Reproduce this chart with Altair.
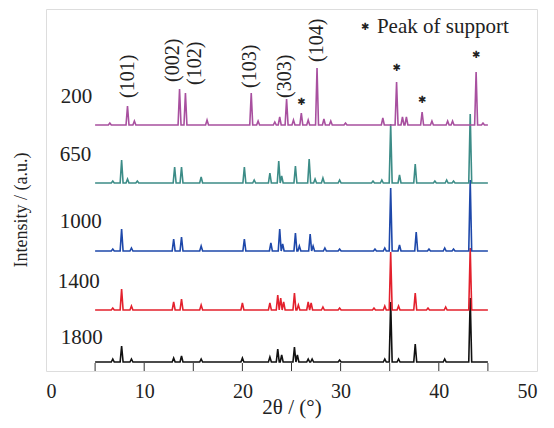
import altair as alt
import pandas as pd

# ---- data ----
samples = ["1800", "1400", "1000", "650", "200"]
colors = ["#111111", "#e3212d", "#1e48aa", "#3c8c87", "#a8509f"]
offsets = [9, 61, 120, 188, 246]          # vertical stacking offset (a.u.)
x_start, x_end = 5.0, 45.0

pos_1800 = [6.8, 7.7, 8.7, 13.0, 13.8, 15.8, 20.0, 22.8, 23.6, 24.0, 25.3, 25.6, 26.7, 27.1, 29.9, 34.5, 35.1, 35.9, 37.6, 40.6, 43.2]
hgt_1800 = [3, 16, 3, 4, 6, 3, 4, 5, 13, 7, 15, 7, 3, 3, 2, 3, 60, 3, 18, 3, 64]

pos_1400 = [6.8, 7.7, 8.7, 13.0, 13.8, 15.8, 20.0, 22.8, 23.6, 23.9, 24.2, 25.3, 25.7, 26.7, 27.0, 28.2, 29.9, 33.4, 34.5, 35.1, 35.9, 37.6, 38.9, 40.7, 43.2]
hgt_1400 = [2, 21, 4, 8, 11, 5, 7, 7, 15, 12, 8, 17, 5, 8, 7, 3, 2, 2, 4, 58, 4, 17, 2, 3, 62]

pos_1000 = [6.8, 7.7, 8.7, 13.0, 13.8, 15.8, 20.2, 22.9, 23.8, 24.1, 25.4, 25.8, 26.9, 27.2, 28.4, 29.9, 33.5, 34.5, 35.1, 36.0, 37.7, 39.0, 40.6, 41.5, 43.2]
hgt_1000 = [2, 22, 3, 12, 14, 5, 12, 8, 22, 7, 18, 5, 17, 5, 3, 2, 2, 3, 63, 6, 19, 2, 3, 2, 71]

pos_650 = [6.8, 7.7, 8.3, 9.3, 13.1, 13.8, 15.8, 20.2, 21.2, 22.8, 23.7, 24.0, 25.4, 26.8, 27.4, 28.2, 29.9, 33.3, 34.2, 35.1, 36.0, 37.6, 39.6, 40.8, 41.5, 43.2]
hgt_650 = [2, 23, 4, 2, 16, 16, 6, 16, 3, 10, 22, 7, 17, 24, 4, 5, 3, 2, 3, 59, 8, 19, 2, 3, 2, 69]

pos_200 = [6.5, 8.3, 9.0, 13.6, 14.2, 16.4, 20.9, 21.6, 23.3, 23.8, 24.5, 25.2, 26.0, 26.7, 27.6, 28.3, 29.0, 30.5, 34.3, 35.7, 36.3, 36.7, 38.3, 39.3, 40.9, 41.4, 43.8, 44.5]
hgt_200 = [2, 19, 4, 36, 32, 5, 32, 4, 3, 8, 26, 5, 12, 5, 57, 6, 4, 2, 7, 43, 8, 8, 13, 4, 4, 4, 53, 2]

peak_pos = [pos_1800, pos_1400, pos_1000, pos_650, pos_200]
peak_hgt = [hgt_1800, hgt_1400, hgt_1000, hgt_650, hgt_200]

# sample label positions
label_x = [1.5, 1.2, 1.4, 1.4, 1.5]
label_y = [33, 89, 149, 216, 274]

# Miller-index annotations
hkl_text = ["(101)", "(002)", "(102)", "(103)", "(303)", "(104)"]
hkl_x = [8.35, 12.95, 15.2, 20.75, 24.3, 27.6]
hkl_y = [273, 289, 286, 283, 273, 309]

# asterisks marking support peaks
star_x = [26.0, 35.7, 38.3, 43.8]
star_y = [269, 303, 271, 316]

x_ticks_major = [0, 10, 20, 30, 40, 50]
x_ticks_all = [5, 10, 15, 20, 25, 30, 35, 40, 45]

# ---- build line vertices ----
half_w = 0.15
rows = []
for s, off, ps, hs in zip(samples, offsets, peak_pos, peak_hgt):
    order = 0
    rows.append(dict(sample=s, x=x_start, y=off, o=order)); order += 1
    for p, h in zip(ps, hs):
        for xx, yy in ((p - half_w, off), (p, off + h), (p + half_w, off)):
            rows.append(dict(sample=s, x=xx, y=yy, o=order)); order += 1
    rows.append(dict(sample=s, x=x_end, y=off, o=order))
df = pd.DataFrame(rows)

lab_df = pd.DataFrame(dict(t=samples, x=label_x, y=label_y))
hkl_df = pd.DataFrame(dict(t=hkl_text, x=hkl_x, y=hkl_y))
star_df = pd.DataFrame(dict(x=star_x, y=star_y))
tick_df = pd.DataFrame(dict(x=x_ticks_all))
legend_df = pd.DataFrame(dict(t=["Peak of support"], x=[33.7], y=[344]))
legend_star = pd.DataFrame(dict(x=[32.5], y=[344]))
ytitle_df = pd.DataFrame(dict(t=["Intensity / (a.u.)"]))

FONT = "Liberation Serif"
xs = alt.Scale(domain=[0, 50], nice=False)
ys = alt.Scale(domain=[0, 362], nice=False)

xenc = alt.X("x:Q", scale=xs,
             axis=alt.Axis(values=x_ticks_major, title="2θ / (°)", grid=False, ticks=False,
                           domain=False, labelFont=FONT, labelFontSize=20, labelColor="#222",
                           labelPadding=10, titleFont=FONT, titleFontSize=21,
                           titleFontWeight="normal", titleColor="#222",
                           titleY=36, titleBaseline="middle"))
yenc = alt.Y("y:Q", scale=ys, axis=None)

lines = alt.Chart(df).mark_line(strokeWidth=1.6, interpolate="linear").encode(
    x=xenc, y=yenc,
    color=alt.Color("sample:N", scale=alt.Scale(domain=samples, range=colors), legend=None),
    order="o:Q",
)

ticks = alt.Chart(tick_df).mark_rule(color="#333", strokeWidth=1).encode(
    x=alt.X("x:Q", scale=xs), y=alt.value(362), y2=alt.value(354))

ytitle = alt.Chart(ytitle_df).mark_text(font=FONT, fontSize=18, angle=270, align="center",
                                        baseline="middle", color="#222").encode(
    x=alt.value(-24), y=alt.value(201), text="t:N")

labels = alt.Chart(lab_df).mark_text(font=FONT, fontSize=21, align="left",
                                     baseline="middle", color="#222").encode(
    x=alt.X("x:Q", scale=xs), y=alt.Y("y:Q", scale=ys), text="t:N")

hkl = alt.Chart(hkl_df).mark_text(font=FONT, fontSize=20, angle=270, align="left",
                                  baseline="middle", color="#222").encode(
    x=alt.X("x:Q", scale=xs), y=alt.Y("y:Q", scale=ys), text="t:N")

stars = alt.Chart(star_df).mark_text(text="✱", font="DejaVu Sans", fontSize=10,
                                     align="center", baseline="middle", color="#222").encode(
    x=alt.X("x:Q", scale=xs), y=alt.Y("y:Q", scale=ys))

leg_star = alt.Chart(legend_star).mark_text(text="✱", font="DejaVu Sans", fontSize=10,
                                            align="center", baseline="middle", color="#222").encode(
    x=alt.X("x:Q", scale=xs), y=alt.Y("y:Q", scale=ys))

leg_text = alt.Chart(legend_df).mark_text(font=FONT, fontSize=21, align="left",
                                          baseline="middle", color="#222").encode(
    x=alt.X("x:Q", scale=xs), y=alt.Y("y:Q", scale=ys), text="t:N")

chart = alt.layer(lines, ticks, ytitle, labels, hkl, stars, leg_star, leg_text).properties(
    width=491, height=362,
    padding={"left": 38, "top": 1, "right": 9, "bottom": 48},
    autosize=alt.AutoSizeParams(type="none"),
).configure_view(stroke="#808080", strokeWidth=2).configure(background="white")

chart.save("out.html", embed_options={"renderer": "svg", "actions": False})
